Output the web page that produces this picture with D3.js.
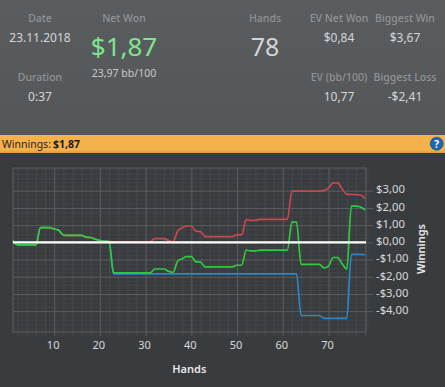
<!DOCTYPE html>
<html>
<head>
<meta charset="utf-8">
<script src="https://cdn.jsdelivr.net/npm/d3@7"></script>
<style>
  html, body { margin: 0; padding: 0; background: #393c3f; overflow: hidden; }
  svg { display: block; font-family: "Noto Sans", sans-serif; }
</style>
</head>
<body>
<script>
  // Valores, una entrada por mano (1 a 78)
  const green_line = [
    0.1, -0.15, -0.15, -0.15, -0.15, -0.15, 0.85, 0.85, 0.85, 0.78,
    0.7, 0.42, 0.4, 0.4, 0.4, 0.4, 0.3, 0.28, 0.18, 0.1,
    0.06, 0.05, -1.77, -1.77, -1.77, -1.77, -1.77, -1.77, -1.77, -1.77,
    -1.77, -1.55, -1.55, -1.55, -1.68, -1.75, -1.1, -0.95, -0.83, -0.83,
    -1.13, -1.15, -1.43, -1.43, -1.43, -1.43, -1.43, -1.43, -1.43, -1.33,
    -1.33, -0.45, -0.5, -0.5, -0.45, -0.45, -0.45, -0.45, -0.45, -0.45,
    -0.45, 1.18, 1.18, -1.28, -1.28, -1.28, -1.28, -1.28, -1.48, -1.38,
    -0.88, -0.88, -1.25, -1.55, 2.1, 2.1, 2.05, 1.87
  ]
  const red_line = [
    0.1, -0.15, -0.15, -0.15, -0.15, -0.15, 0.85, 0.85, 0.85, 0.78,
    0.7, 0.42, 0.4, 0.4, 0.4, 0.4, 0.3, 0.28, 0.18, 0.1,
    0.06, 0.05, 0.03, 0.03, 0.03, 0.03, 0.03, 0.03, 0.03, 0.03,
    0.03, 0.22, 0.22, 0.22, 0.1, 0.03, 0.65, 0.85, 0.95, 0.95,
    0.65, 0.62, 0.33, 0.33, 0.33, 0.33, 0.33, 0.33, 0.33, 0.43,
    0.43, 1.32, 1.28, 1.28, 1.33, 1.33, 1.33, 1.33, 1.33, 1.33,
    1.33, 2.98, 2.98, 2.98, 2.98, 2.98, 2.98, 2.98, 3.02, 3.15,
    3.45, 3.45, 3.1, 2.8, 2.78, 2.78, 2.75, 2.55
  ]
  const blue_line = [
    0.1, -0.15, -0.15, -0.15, -0.15, -0.15, 0.85, 0.85, 0.85, 0.78,
    0.7, 0.42, 0.4, 0.4, 0.4, 0.4, 0.3, 0.28, 0.18, 0.1,
    0.06, 0.05, -1.83, -1.83, -1.83, -1.83, -1.83, -1.83, -1.83, -1.83,
    -1.83, -1.83, -1.83, -1.83, -1.83, -1.83, -1.83, -1.83, -1.83, -1.83,
    -1.83, -1.83, -1.83, -1.83, -1.83, -1.83, -1.83, -1.83, -1.83, -1.83,
    -1.83, -1.83, -1.83, -1.83, -1.83, -1.83, -1.83, -1.83, -1.83, -1.83,
    -1.83, -1.83, -1.83, -4.25, -4.25, -4.25, -4.25, -4.25, -4.42, -4.42,
    -4.42, -4.42, -4.42, -4.42, -0.7, -0.7, -0.7, -0.72
  ]

  const x_ticks = [10, 20, 30, 40, 50, 60, 70]
  const x_minor = [2, 4, 6, 8, 12, 14, 16, 18, 22, 24, 26, 28, 32, 34, 36, 38, 42, 44, 46, 48, 52, 54, 56, 58, 62, 64, 66, 68, 72, 74, 76, 78]
  const y_ticks = [3, 2, 1, 0, -1, -2, -3, -4]
  const y_labels = ['$3,00', '$2,00', '$1,00', '$0,00', '-$1,00', '-$2,00', '-$3,00', '-$4,00']
  const y_minor = [4.25, 4, 3.75, 3.5, 3.25, 2.75, 2.5, 2.25, 1.75, 1.5, 1.25, 0.75, 0.5, 0.25, -0.25, -0.5, -0.75, -1.25, -1.5, -1.75, -2.25, -2.5, -2.75, -3.25, -3.5, -3.75, -4.25, -4.5, -4.75, -5]

  const stats_left = [
    { label: 'Date', value: '23.11.2018', x: 40, y: 18, vy: 38 },
    { label: 'Duration', value: '0:37', x: 40, y: 77, vy: 97 },
    { label: 'EV Net Won', value: '$0,84', x: 339, y: 18, vy: 38 },
    { label: 'Biggest Win', value: '$3,67', x: 405, y: 18, vy: 38 },
    { label: 'EV (bb/100)', value: '10,77', x: 339, y: 77, vy: 97 },
    { label: 'Biggest Loss', value: '-$2,41', x: 405, y: 77, vy: 97 }
  ]

  const width = 445, height = 387
  const margin = { top: 168, right: 79, bottom: 55, left: 13 }
  const inner_w = width - margin.left - margin.right
  const inner_h = height - margin.top - margin.bottom

  const svg = d3.select('body').append('svg').attr('width', width).attr('height', height)

  const defs = svg.append('defs')
  const head_grad = defs.append('linearGradient').attr('id', 'head').attr('x2', 0).attr('y2', 1)
  head_grad.append('stop').attr('offset', 0).attr('stop-color', '#5a5d5f')
  head_grad.append('stop').attr('offset', 1).attr('stop-color', '#54575a')
  const band_grad = defs.append('linearGradient').attr('id', 'band').attr('x2', 0).attr('y2', 1)
  band_grad.append('stop').attr('offset', 0).attr('stop-color', '#f5b14b')
  band_grad.append('stop').attr('offset', 0.85).attr('stop-color', '#f4b04a')
  band_grad.append('stop').attr('offset', 1).attr('stop-color', '#d89a3e')

  // Fondo, cabecera y banda naranja
  svg.append('rect').attr('width', width).attr('height', height).attr('fill', '#393c3f')
  svg.append('rect').attr('width', width).attr('height', 135).attr('fill', 'url(#head)')
  svg.append('rect').attr('y', 135).attr('width', width).attr('height', 18).attr('fill', 'url(#band)')

  const label = (txt, x, y, size, fill, weight) => {
    return svg.append('text')
      .attr('x', x).attr('y', y)
      .attr('dy', '0.36em')
      .attr('text-anchor', 'middle')
      .attr('font-size', size)
      .attr('font-weight', weight || 400)
      .attr('fill', fill)
      .text(txt)
  }

  stats_left.forEach(d => {
    label(d.label, d.x, d.y, 10.5, '#909396', 500)
    label(d.value, d.x, d.vy, 12, '#d4d5d6')
  })
  label('Net Won', 124, 18, 10.5, '#909396', 500)
  label('$1,87', 124, 47, 26, '#80e68c')
  label('23,97 bb/100', 124, 73, 10.5, '#c8c9ca')
  label('Hands', 265, 18, 10.5, '#909396', 500)
  label('78', 265, 47, 25, '#d4d5d6')

  svg.append('text').attr('x', 2).attr('y', 148).attr('font-size', 10.5).attr('fill', '#2a2520').text('Winnings:')
  svg.append('text').attr('x', 53).attr('y', 148).attr('font-size', 10.5).attr('font-weight', 700).attr('fill', '#1c1a16').text('$1,87')

  // Icono de ayuda
  svg.append('circle').attr('cx', 436.7).attr('cy', 143.7).attr('r', 6.5).attr('fill', '#1a68ad').attr('stroke', '#0f4a82').attr('stroke-width', 0.6)
  svg.append('text').attr('x', 436.7).attr('y', 147.5).attr('text-anchor', 'middle').attr('font-size', 10).attr('font-weight', 700).attr('fill', '#fff').text('?')

  const x = d3.scaleLinear().domain([1, 78.2]).range([0, inner_w])
  const y = d3.scaleLinear().domain([4.32, -5.21]).range([0, inner_h])

  const g = svg.append('g').attr('transform', `translate(${margin.left},${margin.top})`)

  // Grilla menor, las marcas sobresalen un poco del marco
  g.append('g')
    .call(d3.axisBottom(x).tickValues(x_minor).tickSize(inner_h + 4).tickFormat(''))
    .call(a => a.select('.domain').remove())
    .call(a => a.selectAll('line').attr('stroke', '#47494c'))
  g.append('g')
    .call(d3.axisRight(y).tickValues(y_minor).tickSize(inner_w + 4).tickFormat(''))
    .call(a => a.select('.domain').remove())
    .call(a => a.selectAll('line').attr('stroke', '#424548'))

  // Grilla mayor con etiquetas
  g.append('g')
    .call(d3.axisBottom(x).tickValues(x_ticks).tickSize(inner_h + 4).tickPadding(5))
    .call(a => a.select('.domain').remove())
    .call(a => a.selectAll('line').attr('stroke', '#5b5e60'))
    .call(a => a.selectAll('text').attr('fill', '#d8d9da').attr('font-size', 11).attr('font-family', '"Noto Sans", sans-serif').attr('dx', '-1.5'))
  g.append('g')
    .call(d3.axisRight(y).tickValues(y_ticks).tickSize(inner_w + 7).tickPadding(3)
      .tickFormat((d, i) => y_labels[i]))
    .call(a => a.select('.domain').remove())
    .call(a => a.selectAll('line').attr('stroke', '#5b5e60'))
    .call(a => a.selectAll('text').attr('fill', '#d8d9da').attr('font-size', 11.3).attr('font-family', '"Noto Sans", sans-serif').attr('dy', '0.2em'))

  g.append('rect')
    .attr('width', inner_w).attr('height', inner_h)
    .attr('fill', 'none').attr('stroke', '#5b5e60')

  const line = d3.line()
    .x((d, i) => x(i + 1))
    .y(d => y(d))
    .curve(d3.curveMonotoneX)

  const series = [
    { values: blue_line, color: '#2d86c4' },
    { values: red_line, color: '#c9484e' },
    { values: green_line, color: '#2ecb3e' }
  ]

  g.selectAll('.serie')
    .data(series)
    .join('path')
    .attr('class', 'serie')
    .attr('d', d => line(d.values))
    .attr('fill', 'none')
    .attr('stroke', d => d.color)
    .attr('stroke-width', 1.7)

  // Linea blanca del cero
  g.append('line')
    .attr('x1', 0).attr('x2', inner_w)
    .attr('y1', y(0)).attr('y2', y(0))
    .attr('stroke', '#fff').attr('stroke-width', 2.4)

  label('Hands', 189.3, 369, 11, '#e6e7e8', 600)
  svg.append('text')
    .attr('transform', 'translate(421.5,249) rotate(-90)')
    .attr('dy', '0.36em')
    .attr('text-anchor', 'middle')
    .attr('font-size', 11)
    .attr('font-weight', 600)
    .attr('fill', '#e6e7e8')
    .text('Winnings')
</script>
</body>
</html>
